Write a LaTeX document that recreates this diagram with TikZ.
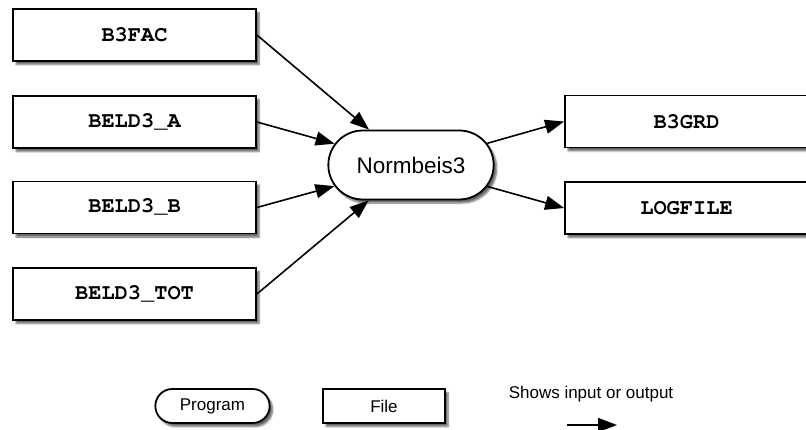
\documentclass[tikz,border=0pt]{standalone}
\usepackage{fontspec}
\usetikzlibrary{arrows.meta,shapes.misc,shadows.blur}
\newcommand\filefont{\fontencoding{T1}\fontfamily{pcr}\fontseries{b}\selectfont}
\newfontfamily\progfont{Liberation Sans}

\begin{document}
\begin{tikzpicture}[x=1pt,y=-1pt,
    filebox/.style={draw,fill=white,line width=1.8pt,minimum width=243pt,minimum height=52pt,
      blur shadow={shadow xshift=3pt,shadow yshift=-3.5pt,shadow blur steps=6,shadow opacity=60},
      font={\filefont\fontsize{22}{26}\selectfont}},
    progbox/.style={rounded rectangle,draw,fill=white,line width=1.8pt,minimum width=172pt,minimum height=69pt,
      blur shadow={shadow xshift=3pt,shadow yshift=-3.5pt,shadow blur steps=6,shadow opacity=60},
      font={\progfont\fontsize{22.5}{27}\selectfont}},
    legfont/.style={font={\progfont\fontsize{17}{20}\selectfont}},
    flow/.style={line width=1.6pt,-{Triangle[length=19pt,width=14pt]}}]
    \useasboundingbox (0,0) rectangle (806,430);

    % Вхідні файли
    \node[filebox] (b3fac) at (134.5,35) {B3FAC};
    \node[filebox] (beldA) at (134.5,122) {BELD3\_A};
    \node[filebox] (beldB) at (134.5,207.5) {BELD3\_B};
    \node[filebox] (beldTot) at (134.5,294) {BELD3\_TOT};

    % Програма
    \node[progbox] (norm) at (411,165) {Normbeis3};

    % Вихідні файли
    \node[filebox] (b3grd) at (686.5,121.5) {B3GRD};
    \node[filebox] (logfile) at (686.5,208) {LOGFILE};

    % Стрілки
    \foreach \f in {b3fac,beldA,beldB,beldTot}
        \draw[flow] (\f.east) -- (norm);
    \draw[flow] (norm) -- (b3grd.west);
    \draw[flow] (norm) -- (logfile.west);

    % Легенда
    \node[progbox,legfont,minimum width=121pt,minimum height=34pt] (legProg) at (212.5,406) {Program};
    \node[filebox,legfont,minimum width=122pt,minimum height=34pt] (legFile) at (384,406) {File};
    \node[legfont] (legText) at (591,394) {Shows input or output};
    \coordinate (legA) at (567,425);
    \coordinate (legB) at (617,425);
    \draw[flow] (legA) -- (legB);
\end{tikzpicture}
\end{document}
